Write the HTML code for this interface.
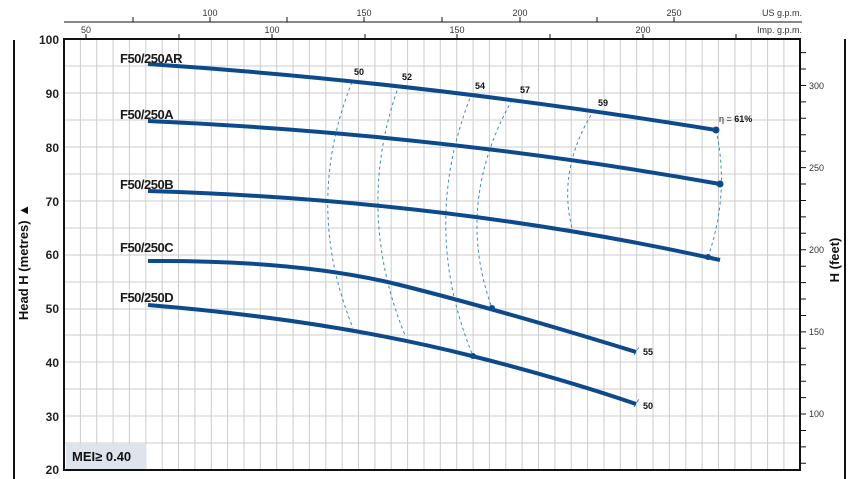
<!DOCTYPE html>
<html><head><meta charset="utf-8"><style>
html,body{margin:0;padding:0;background:#fff;}
svg{display:block;font-family:"Liberation Sans",sans-serif;}
</style></head><body>
<svg width="868" height="479" viewBox="0 0 868 479" xmlns="http://www.w3.org/2000/svg">
<g stroke="#cccccc" stroke-width="1">
<path d="M80.4 39V470M96.7 39V470M113.1 39V470M129.4 39V470M145.8 39V470M162.2 39V470M178.5 39V470M194.9 39V470M211.3 39V470M227.6 39V470M244 39V470M260.3 39V470M276.7 39V470M293.1 39V470M309.4 39V470M325.8 39V470M342.2 39V470M358.5 39V470M374.9 39V470M391.2 39V470M407.6 39V470M424 39V470M440.3 39V470M456.7 39V470M473.1 39V470M489.4 39V470M505.8 39V470M522.1 39V470M538.5 39V470M554.9 39V470M571.2 39V470M587.6 39V470M604 39V470M620.3 39V470M636.7 39V470M653 39V470M669.4 39V470M685.8 39V470M702.1 39V470M718.5 39V470M734.9 39V470M751.2 39V470M767.6 39V470M783.9 39V470"/>
<path d="M64 66H800M64 93H800M64 120H800M64 147H800M64 174H800M64 201H800M64 228H800M64 255H800M64 282H800M64 309H800M64 335H800M64 362H800M64 389H800M64 416H800M64 443H800"/>
</g>
<rect x="64" y="39" width="736" height="431" fill="none" stroke="#111" stroke-width="2"/>
<g stroke="#111" stroke-width="1">
<path d="M64 22H802"/>
<path d="M133 22V17M210 22V17M287 22V17M364 22V17M442 22V17M520 22V17M597 22V17M674 22V17"/>
<path d="M86 39V34M179 39V34M272 39V34M365 39V34M457 39V34M550 39V34M643 39V34M736 39V34"/>
</g>
<g font-size="9" fill="#333" text-anchor="middle">
<text x="210" y="16">100</text><text x="364" y="16">150</text><text x="520" y="16">200</text><text x="674" y="16">250</text>
<text x="86" y="33">50</text><text x="272" y="33">100</text><text x="457" y="33">150</text><text x="643" y="33">200</text>
<text x="802" y="16" text-anchor="end">US g.p.m.</text><text x="802" y="33" text-anchor="end">Imp. g.p.m.</text>
</g>
<g font-size="12" font-weight="bold" fill="#222" text-anchor="end">
<text x="59" y="44">100</text><text x="59" y="98">90</text><text x="59" y="152">80</text><text x="59" y="206">70</text><text x="59" y="259">60</text><text x="59" y="313">50</text><text x="59" y="367">40</text><text x="59" y="421">30</text><text x="59" y="474">20</text>
</g>
<g stroke="#111" stroke-width="1">
<path d="M800 52.6h6M800 69.0h6M800 85.5h6M800 101.9h6M800 118.3h6M800 134.7h6M800 151.2h6M800 167.6h6M800 184.0h6M800 200.5h6M800 216.9h6M800 233.3h6M800 249.7h6M800 266.2h6M800 282.6h6M800 299.0h6M800 315.5h6M800 331.9h6M800 348.3h6M800 364.7h6M800 381.2h6M800 397.6h6M800 414.0h6M800 430.5h6M800 446.9h6M800 463.3h6"/>
</g>
<g font-size="9" fill="#333">
<text x="809" y="89">300</text><text x="809" y="171">250</text><text x="809" y="253">200</text><text x="809" y="335">150</text><text x="809" y="417">100</text>
</g>
<path d="M14 40V479M845 39V479" stroke="#111" stroke-width="2"/>
<text transform="translate(28,262) rotate(-90)" font-size="13" font-weight="bold" fill="#111" text-anchor="middle">Head H (metres) ▲</text>
<text transform="translate(839,260) rotate(-90)" font-size="13" font-weight="bold" fill="#111" text-anchor="middle">H (feet)</text>
<g fill="none" stroke="#3a8fb8" stroke-width="1" stroke-dasharray="3,3">
<path d="M352 82Q303 205 353 328"/>
<path d="M399 85Q354 210 405 335"/>
<path d="M472 93Q419 225 473 356"/>
<path d="M512 100Q454 204 492 308"/>
<path d="M594 110Q557 169 572 228"/>
<path d="M716 130Q730 193 708 257"/>
<path d="M634 355l5-8M634 407l5-8"/>
</g>
<g fill="none" stroke="#0d4a8c" stroke-width="4">
<path d="M148 64Q420 82 716 130"/>
<path d="M148 121Q440 134 720 184"/>
<path d="M148 191Q450 200 720 260"/>
<path d="M148 261Q300 260 400 285T636 352"/>
<path d="M148 305Q330 320 472 356Q560 378 636 404"/>
</g>
<g fill="#0d4a8c">
<circle cx="716" cy="130" r="3.5"/><circle cx="720" cy="184" r="3.5"/><circle cx="708" cy="257" r="3"/><circle cx="492" cy="308" r="3"/><circle cx="473" cy="356" r="3"/>
</g>
<g font-size="13" font-weight="bold" fill="#1a1a1a" style="letter-spacing:-0.5px">
<text x="120" y="63">F50/250AR</text><text x="120" y="119">F50/250A</text><text x="120" y="189">F50/250B</text><text x="120" y="252">F50/250C</text><text x="120" y="302">F50/250D</text>
</g>
<g font-size="9" font-weight="bold" fill="#111">
<text x="354" y="75">50</text><text x="402" y="80">52</text><text x="475" y="89">54</text><text x="520" y="93">57</text><text x="598" y="106">59</text>
<text x="643" y="355">55</text><text x="643" y="409">50</text>
<text x="719" y="122"><tspan font-weight="normal">η =</tspan> 61%</text>
</g>
<rect x="66" y="444" width="80" height="25" fill="#dde4ec"/>
<text x="72" y="461" font-size="13" font-weight="bold" fill="#111">MEI≥ 0.40</text>
</svg>
</body></html>
